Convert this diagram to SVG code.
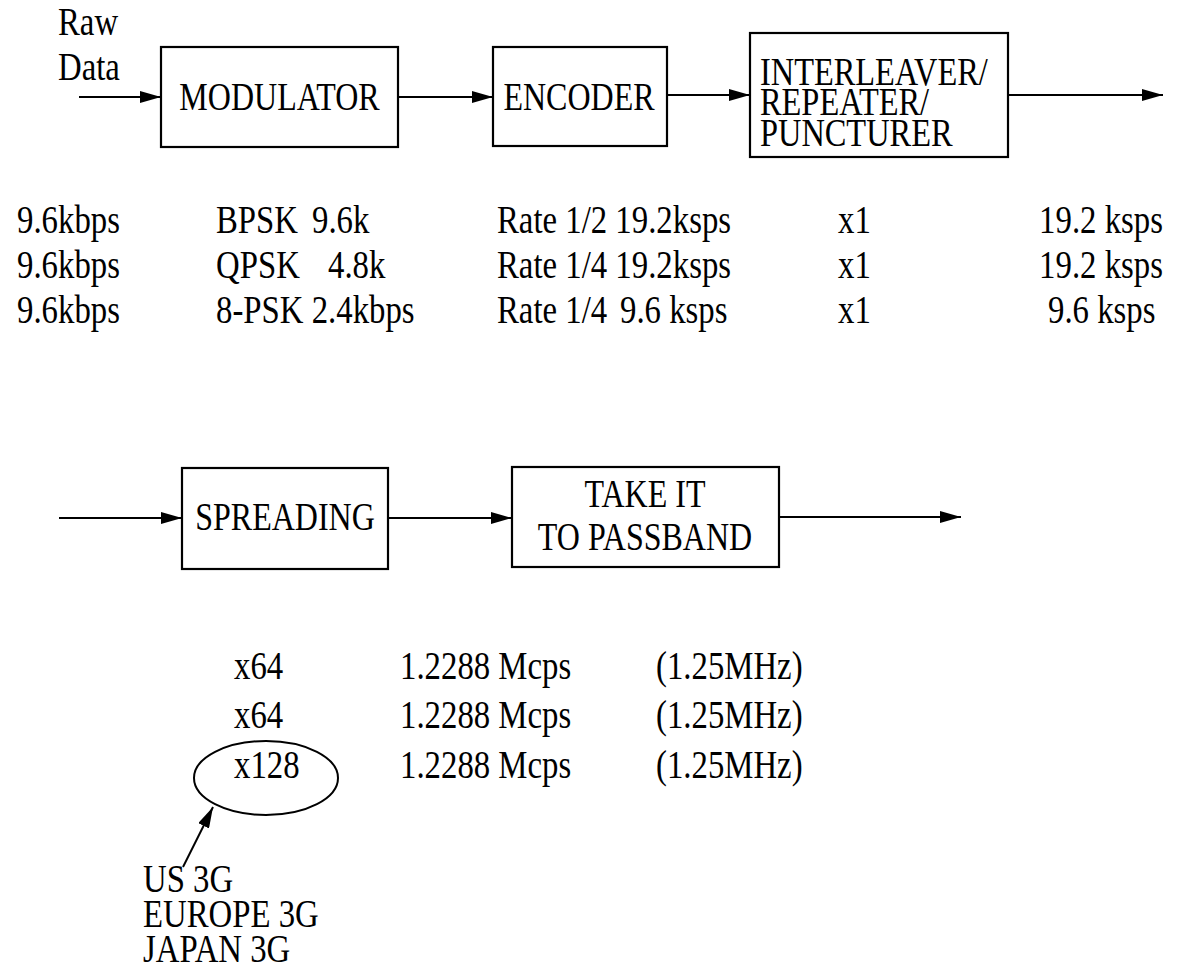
<svg xmlns="http://www.w3.org/2000/svg" width="1190" height="969" viewBox="0 0 1190 969">
<defs>
<marker id="ah" viewBox="0 0 21 12" refX="21" refY="6" markerWidth="21" markerHeight="12" markerUnits="userSpaceOnUse" orient="auto">
<path d="M0,0 L21,6 L0,12 Z" fill="#000"/>
</marker>
<style>
.t{font-family:'Liberation Serif','Times New Roman',serif;font-size:40px;fill:#000}
.box{fill:#fff;stroke:#000;stroke-width:2.2}
.ln{stroke:#000;stroke-width:2;fill:none}
</style>
</defs>
<rect width="1190" height="969" fill="#fff"/>
<g id="connectors">
<line class="ln" x1="79" y1="97" x2="161" y2="97" marker-end="url(#ah)"/>
<line class="ln" x1="398" y1="97" x2="493" y2="97" marker-end="url(#ah)"/>
<line class="ln" x1="667" y1="95" x2="750" y2="95" marker-end="url(#ah)"/>
<line class="ln" x1="1008" y1="95" x2="1163" y2="95" marker-end="url(#ah)"/>
<line class="ln" x1="59" y1="518" x2="182" y2="518" marker-end="url(#ah)"/>
<line class="ln" x1="388" y1="518" x2="512" y2="518" marker-end="url(#ah)"/>
<line class="ln" x1="779" y1="517" x2="961" y2="517" marker-end="url(#ah)"/>
<line class="ln" x1="183" y1="867" x2="213" y2="807" marker-end="url(#ah)"/>
</g>
<g class="t">
<g id="rawdata"><text transform="translate(58,35) scale(0.82,1)">Raw</text><text transform="translate(58,80) scale(0.82,1)">Data</text></g>
<g id="modulator"><rect class="box" x="161" y="47" width="237" height="100"/><text transform="translate(279.5,110) scale(0.8,1)" text-anchor="middle">MODULATOR</text></g>
<g id="encoder"><rect class="box" x="493" y="47" width="174" height="99"/><text transform="translate(579,110) scale(0.8,1)" text-anchor="middle">ENCODER</text></g>
<g id="interleaver"><rect class="box" x="750" y="33" width="258" height="124"/><text transform="translate(760,85) scale(0.81,1)">INTERLEAVER/</text><text transform="translate(760,115) scale(0.81,1)">REPEATER/</text><text transform="translate(760,146) scale(0.81,1)">PUNCTURER</text></g>
<g id="spreading"><rect class="box" x="182" y="468" width="206" height="101"/><text transform="translate(285,530) scale(0.8,1)" text-anchor="middle">SPREADING</text></g>
<g id="passband"><rect class="box" x="512" y="467" width="267" height="100"/><text transform="translate(645,507) scale(0.8,1)" text-anchor="middle">TAKE IT</text><text transform="translate(645,550) scale(0.8,1)" text-anchor="middle">TO PASSBAND</text></g>
<g id="rates-top">
<text transform="translate(17,233) scale(0.82,1)">9.6kbps</text>
<text transform="translate(216,233) scale(0.82,1)">BPSK</text>
<text transform="translate(312,233) scale(0.82,1)">9.6k</text>
<text transform="translate(497,233) scale(0.82,1)">Rate 1/2 19.2ksps</text>
<text transform="translate(838,233) scale(0.82,1)">x1</text>
<text transform="translate(1163,233) scale(0.82,1)" text-anchor="end">19.2 ksps</text>
<text transform="translate(17,278) scale(0.82,1)">9.6kbps</text>
<text transform="translate(216,278) scale(0.82,1)">QPSK</text>
<text transform="translate(328,278) scale(0.82,1)">4.8k</text>
<text transform="translate(497,278) scale(0.82,1)">Rate 1/4 19.2ksps</text>
<text transform="translate(838,278) scale(0.82,1)">x1</text>
<text transform="translate(1163,278) scale(0.82,1)" text-anchor="end">19.2 ksps</text>
<text transform="translate(17,323) scale(0.82,1)">9.6kbps</text>
<text transform="translate(216,323) scale(0.82,1)">8-PSK 2.4kbps</text>
<text transform="translate(497,323) scale(0.82,1)">Rate 1/4</text>
<text transform="translate(620,323) scale(0.82,1)">9.6 ksps</text>
<text transform="translate(838,323) scale(0.82,1)">x1</text>
<text transform="translate(1048,323) scale(0.82,1)">9.6 ksps</text>
</g>
<g id="rates-bottom">
<text transform="translate(234,679) scale(0.82,1)">x64</text>
<text transform="translate(400,679) scale(0.82,1)">1.2288 Mcps</text>
<text transform="translate(656,679) scale(0.82,1)">(1.25MHz)</text>
<text transform="translate(234,728) scale(0.82,1)">x64</text>
<text transform="translate(400,728) scale(0.82,1)">1.2288 Mcps</text>
<text transform="translate(656,728) scale(0.82,1)">(1.25MHz)</text>
<text transform="translate(234,778) scale(0.82,1)">x128</text>
<text transform="translate(400,778) scale(0.82,1)">1.2288 Mcps</text>
<text transform="translate(656,778) scale(0.82,1)">(1.25MHz)</text>
</g>
<g id="x128-ellipse"><ellipse class="ln" cx="266" cy="778" rx="72" ry="37"/></g>
<g id="regions"><text transform="translate(143,892) scale(0.82,1)">US 3G</text><text transform="translate(143,927) scale(0.82,1)">EUROPE 3G</text><text transform="translate(143,962) scale(0.82,1)">JAPAN 3G</text></g>
</g>
</svg>
